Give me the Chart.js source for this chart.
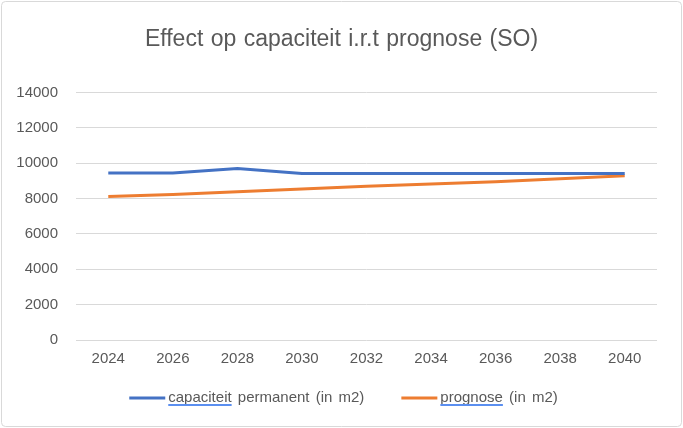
<!DOCTYPE html>
<html>
<head>
<meta charset="utf-8">
<script src="https://cdn.jsdelivr.net/npm/chart.js@4/dist/chart.umd.min.js"></script>
<style>
  html, body { margin: 0; padding: 0; background: #fff; }
  #wrap { width: 683px; height: 428px; position: relative; }
</style>
</head>
<body>
<div id="wrap"><canvas id="myChart"></canvas></div>
<script>
const years = ["2024", "2026", "2028", "2030", "2032", "2034", "2036", "2038", "2040"];
const capaciteit = [9450, 9450, 9700, 9420, 9420, 9420, 9420, 9420, 9420];
const prognose = [8120, 8230, 8390, 8540, 8700, 8830, 8960, 9120, 9300];
const yTicks = [0, 2000, 4000, 6000, 8000, 10000, 12000, 14000];

const fontName = "'Liberation Sans', Arial, sans-serif";
const textGrey = "#595959";

// grey frame round the whole chart, and a bit of word spacing like the original
const framePlugin = {
  id: "frame",
  beforeDraw(chart) {
    const ctx = chart.ctx;
    ctx.save();
    ctx.fillStyle = "#fff";
    ctx.fillRect(0, 0, chart.width, chart.height);
    ctx.strokeStyle = "#d9d9d9";
    ctx.lineWidth = 1;
    ctx.beginPath();
    ctx.roundRect(1.5, 1.5, chart.width - 3, chart.height - 3, 4);
    ctx.stroke();
    ctx.restore();
    ctx.wordSpacing = "1px";
  }
};

// legend drawn by hand: line sample, label, and spell-check underline on the first word
const legendPlugin = {
  id: "myLegend",
  afterDraw(chart) {
    const ctx = chart.ctx;
    const sets = chart.data.datasets;
    const lineW = 36, gapText = 3, gapItem = 37;
    const y = chart.chartArea.bottom + 58;
    ctx.save();
    ctx.font = "15px " + fontName;
    ctx.wordSpacing = "2px";
    ctx.textBaseline = "middle";
    let widths = sets.map(ds => lineW + gapText + ctx.measureText(ds.label).width);
    let total = widths.reduce((a, b) => a + b, 0) + gapItem * (sets.length - 1);
    let x = chart.width / 2 - total / 2 + 2;
    sets.forEach((ds, i) => {
      ctx.strokeStyle = ds.borderColor;
      ctx.lineWidth = 3;
      ctx.beginPath();
      ctx.moveTo(x, y);
      ctx.lineTo(x + lineW, y);
      ctx.stroke();
      const tx = x + lineW + gapText;
      ctx.fillStyle = textGrey;
      ctx.fillText(ds.label, tx, y);
      const word = ds.label.split(" ")[0];
      ctx.strokeStyle = "#5b8ff0";
      ctx.lineWidth = 2;
      ctx.beginPath();
      ctx.moveTo(tx, y + 7);
      ctx.lineTo(tx + ctx.measureText(word).width, y + 7);
      ctx.stroke();
      x += widths[i] + gapItem;
    });
    ctx.restore();
  }
};

new Chart(document.getElementById("myChart"), {
  type: "line",
  data: {
    labels: years,
    datasets: [
      {
        label: "capaciteit permanent (in m2)",
        data: capaciteit,
        borderColor: "#4472C4",
        backgroundColor: "#4472C4",
        borderWidth: 3,
        pointRadius: 0,
        tension: 0
      },
      {
        label: "prognose (in m2)",
        data: prognose,
        borderColor: "#ED7D31",
        backgroundColor: "#ED7D31",
        borderWidth: 3,
        pointRadius: 0,
        tension: 0
      }
    ]
  },
  options: {
    responsive: true,
    maintainAspectRatio: false,
    animation: false,
    layout: { padding: { left: 0, right: 0, top: 10, bottom: 58 } },
    plugins: {
      title: {
        display: true,
        text: "Effect op capaciteit i.r.t prognose (SO)",
        color: textGrey,
        font: { family: fontName, size: 23, weight: "normal" },
        padding: { top: 16, bottom: 39 }
      },
      legend: { display: false },
      tooltip: { enabled: false }
    },
    scales: {
      x: {
        offset: true,
        grid: { display: false },
        border: { display: false },
        ticks: { color: textGrey, font: { family: fontName, size: 15 }, padding: 2, maxRotation: 0 }
      },
      y: {
        min: 0,
        max: 14000,
        afterBuildTicks(axis) {
          axis.ticks = yTicks.map(v => ({ value: v }));
        },
        afterFit(axis) {
          axis.width = 76;
        },
        grid: { color: "#d9d9d9", drawTicks: false },
        border: { display: false },
        ticks: {
          color: textGrey,
          font: { family: fontName, size: 15 },
          padding: 18,
          callback: v => String(v)
        }
      },
      // empty right axis, only to keep room on the right
      yRight: {
        position: "right",
        grid: { display: false },
        border: { display: false },
        ticks: { display: false },
        afterFit(axis) {
          axis.width = 26;
        }
      }
    }
  },
  plugins: [framePlugin, legendPlugin]
});
</script>
</body>
</html>
